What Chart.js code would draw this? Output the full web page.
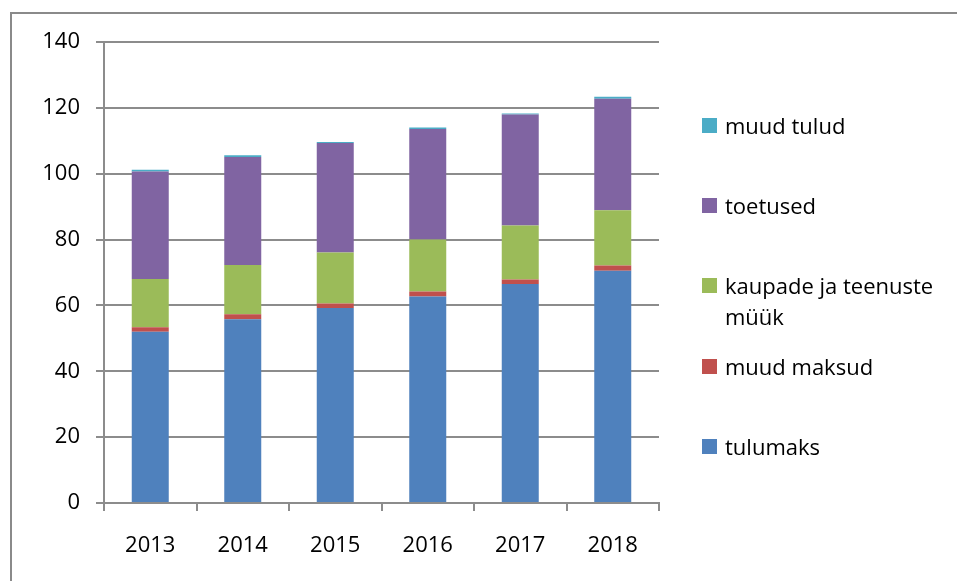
<!DOCTYPE html>
<html>
<head>
<meta charset="utf-8">
<script src="https://cdn.jsdelivr.net/npm/chart.js@4"></script>
<style>
  html, body { margin: 0; padding: 0; background: #fff; overflow: hidden; }
  #frame { position: absolute; left: 10px; top: 12px; width: 2000px; height: 2000px; border: 2px solid #8a8a8a; }
  #wrap { position: absolute; left: 0; top: 0; width: 957px; height: 581px; }
  #legend { position: absolute; left: 702px; top: 0; font-family: "Open Sans", sans-serif; font-size: 22px; color: #000; }
  .item { position: absolute; left: 0; width: 240px; }
  .box { position: absolute; left: 0; width: 15px; height: 15px; }
  .txt { position: absolute; left: 23px; width: 210px; line-height: 31px; }
</style>
</head>
<body>
<div id="frame"></div>
<div id="wrap"><canvas id="chart"></canvas></div>
<div id="legend"></div>
<script>
  "use strict";

  // Aastad
  const aastad = ["2013", "2014", "2015", "2016", "2017", "2018"];

  // Tulude liigid (loetud pildilt)
  const tulumaks = [52.0, 55.8, 59.2, 62.7, 66.5, 70.5];
  const muudMaksud = [1.4, 1.5, 1.4, 1.5, 1.4, 1.6];
  const kaupadeMyyk = [14.6, 15.0, 15.5, 15.8, 16.4, 16.8];
  const toetused = [32.7, 32.8, 33.2, 33.6, 33.7, 33.9];
  const muudTulud = [0.5, 0.5, 0.3, 0.4, 0.3, 0.6];

  const nimed = ["tulumaks", "muud maksud", "kaupade ja teenuste müük", "toetused", "muud tulud"];
  const yTicks = [0, 20, 40, 60, 80, 100, 120, 140];

  const varvid = ["#4f81bd", "#c0504d", "#9bbb59", "#8064a2", "#4bacc6"];
  const read = [tulumaks, muudMaksud, kaupadeMyyk, toetused, muudTulud];

  const gridColor = "#8c8c8c";
  const font = { family: "'Open Sans', sans-serif", size: 22 };

  const chart = new Chart(document.getElementById("chart"), {
    type: "bar",
    data: {
      labels: aastad,
      datasets: read.map((d, i) => ({
        label: nimed[i],
        data: d,
        backgroundColor: varvid[i],
        borderWidth: 0,
        barPercentage: 0.4,
        categoryPercentage: 1
      }))
    },
    options: {
      responsive: true,
      maintainAspectRatio: false,
      animation: false,
      devicePixelRatio: 1,
      layout: { padding: { left: 0, top: 42, right: 298, bottom: 0 } },
      plugins: {
        legend: { display: false },
        title: { display: false },
        tooltip: { enabled: false }
      },
      scales: {
        x: {
          stacked: true,
          grid: { drawOnChartArea: false, drawTicks: true, tickLength: 8, color: gridColor, lineWidth: 2, offset: true },
          border: { color: gridColor, width: 2 },
          ticks: { color: "#000", font: font, padding: 22, maxRotation: 0 },
          afterFit: (s) => { s.height = 78; }
        },
        y: {
          stacked: true,
          min: 0,
          max: 140,
          afterBuildTicks: (s) => { s.ticks = yTicks.map(v => ({ value: v })); },
          grid: { color: gridColor, lineWidth: 2, tickLength: 8 },
          border: { color: gridColor, width: 2 },
          ticks: { color: "#000", font: font, padding: 16 },
          afterFit: (s) => { s.width = 104; }
        }
      }
    }
  });

  // Legend paremal, vastupidises järjekorras
  const legend = document.getElementById("legend");
  chart.data.datasets.slice().reverse().forEach((ds, i) => {
    const cy = 125 + i * 80.4;
    const item = document.createElement("div");
    item.className = "item";
    item.style.top = (cy - 15.5) + "px";
    const box = document.createElement("div");
    box.className = "box";
    box.style.top = "8px";
    box.style.background = ds.backgroundColor;
    const txt = document.createElement("div");
    txt.className = "txt";
    txt.textContent = ds.label;
    item.appendChild(box);
    item.appendChild(txt);
    legend.appendChild(item);
  });
</script>
</body>
</html>
